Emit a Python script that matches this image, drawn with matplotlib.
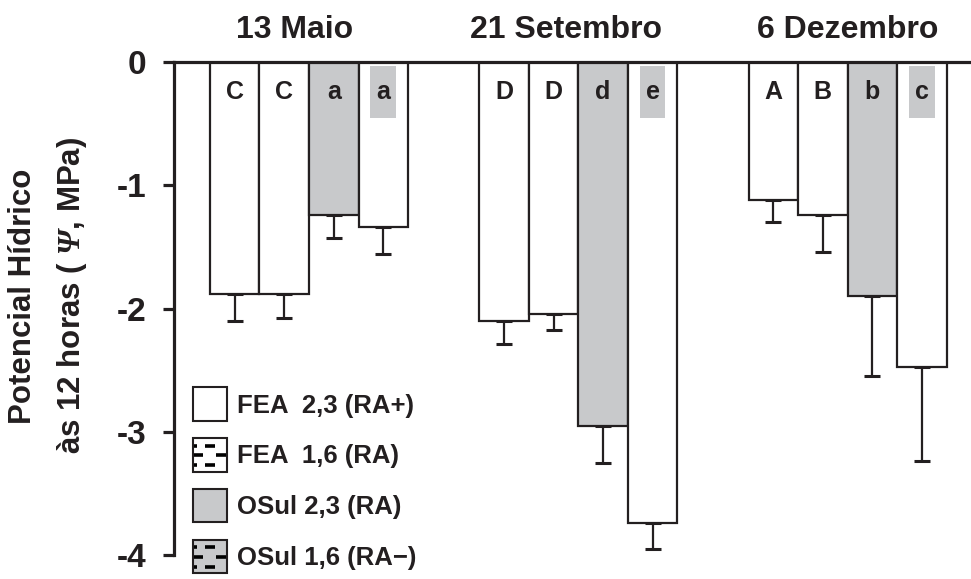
import numpy as np
import matplotlib
matplotlib.use("Agg")
import matplotlib.pyplot as plt
from matplotlib.patches import Rectangle, Patch
from matplotlib.lines import Line2D
from matplotlib.legend_handler import HandlerBase
from matplotlib.transforms import blended_transform_factory

plt.rcParams['font.family'] = ['Liberation Sans', 'DejaVu Sans']
plt.rcParams['font.weight'] = 'bold'
plt.rcParams['axes.unicode_minus'] = False
plt.rcParams['mathtext.fontset'] = 'custom'
# letras gregas maiusculas vao sempre para 'rm' no mathtext
plt.rcParams['mathtext.rm'] = 'Liberation Serif:italic:bold'
plt.rcParams['mathtext.it'] = 'Liberation Serif:italic:bold'

# dados
datas = ['13 Maio', '21 Setembro', '6 Dezembro']
tratamentos = ['FEA  2,3 (RA+)', 'FEA  1,6 (RA)', 'OSul 2,3 (RA)', 'OSul 1,6 (RA\u2212)']
# potencial hidrico medio por data (linhas) e tratamento (colunas)
psi = np.array([[-1.88, -1.88, -1.24, -1.34],
                [-2.10, -2.04, -2.95, -3.74],
                [-1.12, -1.24, -1.90, -2.47]])
erro = np.array([[0.22, 0.20, 0.19, 0.22],
                 [0.19, 0.13, 0.30, 0.21],
                 [0.18, 0.30, 0.65, 0.77]])
letras = [['C', 'C', 'a', 'a'],
          ['D', 'D', 'd', 'e'],
          ['A', 'B', 'b', 'c']]

cinza = '#c8c9cb'
borda = '#231f20'
cores_barras = ['white', 'white', cinza, 'white']
cores_legenda = ['white', 'white', cinza, cinza]
tracejado = [False, True, False, True]


class HandlerTracejado(HandlerBase):
    def __init__(self, cor, tracos):
        super().__init__()
        self.cor = cor
        self.tracos = tracos

    def create_artists(self, legend, orig_handle, xdescent, ydescent,
                       width, height, fontsize, trans):
        x0, y0 = -xdescent, -ydescent
        arts = [Rectangle((x0, y0), width, height, facecolor=self.cor,
                          edgecolor=borda, lw=1.5, transform=trans)]
        if self.tracos:
            segs = [(0.78, 0.35, 0.65), (0.5, 0.03, 0.3), (0.5, 0.68, 0.97),
                    (0.2, 0.35, 0.65), (0.2, 0.03, 0.1), (0.78, 0.03, 0.1)]
            for fy, fa, fb in segs:
                arts.append(Line2D([x0 + fa * width, x0 + fb * width],
                                   [y0 + fy * height, y0 + fy * height],
                                   color='black', lw=2.6, solid_capstyle='butt',
                                   transform=trans))
        return arts


def main():
    fig = plt.figure(figsize=(9.71, 5.79), dpi=100)
    ax = fig.add_axes([0.1792, 0.0415, 0.8208, 0.851])

    centros = 2.727 + 5.44 * np.arange(len(datas))
    desloc = np.arange(4) - 1.5
    largura = 1.0

    for i in range(len(datas)):
        xs = centros[i] + desloc
        ax.bar(xs, psi[i], width=largura, color=cores_barras, edgecolor=borda,
               linewidth=1.6, zorder=2)
        ax.errorbar(xs, psi[i], yerr=[erro[i], np.zeros(4)], fmt='none',
                    ecolor=borda, elinewidth=1.6, capsize=5.5, capthick=2.2,
                    zorder=1)
        for j in range(4):
            if j == 3:
                ax.add_patch(Rectangle((xs[j] - 0.26, -0.45), 0.52, 0.42,
                                       facecolor=cinza, edgecolor='none', zorder=3))
            ax.text(xs[j], -0.24, letras[i][j], ha='center', va='center',
                    fontsize=18, fontweight='bold', color=borda, zorder=4)

    trans = blended_transform_factory(ax.transData, ax.transAxes)
    desloc_titulo = [-0.3, -0.25, 0.0]
    for i, d in enumerate(datas):
        ax.text(centros[i] + desloc_titulo[i], 1.066, d, transform=trans,
                ha='center', va='center', fontsize=23, fontweight='bold',
                color=borda)

    ax.set_xlim(0, 16.1)
    ax.set_ylim(-4, 0)
    ax.set_yticks([0, -1, -2, -3, -4])
    ax.set_yticklabels(['0', '-1', '-2', '-3', '-4'])
    ax.set_xticks([])
    for s in ['right', 'bottom']:
        ax.spines[s].set_visible(False)
    for s in ['left', 'top']:
        ax.spines[s].set_linewidth(2.3)
        ax.spines[s].set_color(borda)
    ax.tick_params(axis='y', length=8, width=2.3, color=borda, labelsize=24,
                   pad=12, labelcolor=borda)
    for t in ax.get_yticklabels():
        t.set_fontweight('bold')

    fig.text(0.05, 0.489,
             'Potencial H\u00eddrico\n\u00e0s 12 horas ( $\\Psi$, MPa)',
             rotation=90, ha='center', va='center', fontsize=22.5,
             fontweight='bold', color=borda, multialignment='center',
             linespacing=1.7)

    handles = [Patch(label=t) for t in tratamentos]
    hmap = {h: HandlerTracejado(cores_legenda[k], tracejado[k])
            for k, h in enumerate(handles)}
    leg = ax.legend(handles=handles, handler_map=hmap, loc='upper left',
                    bbox_to_anchor=(0.024, 0.34), frameon=False, fontsize=18.5,
                    handlelength=1.32, handleheight=1.62, handletextpad=0.4,
                    labelspacing=0.68, borderpad=0, borderaxespad=0)
    for t in leg.get_texts():
        t.set_fontweight('bold')
        t.set_color(borda)
    leg.set_clip_on(False)

    fig.savefig('out.png', dpi=100)


if __name__ == '__main__':
    main()
